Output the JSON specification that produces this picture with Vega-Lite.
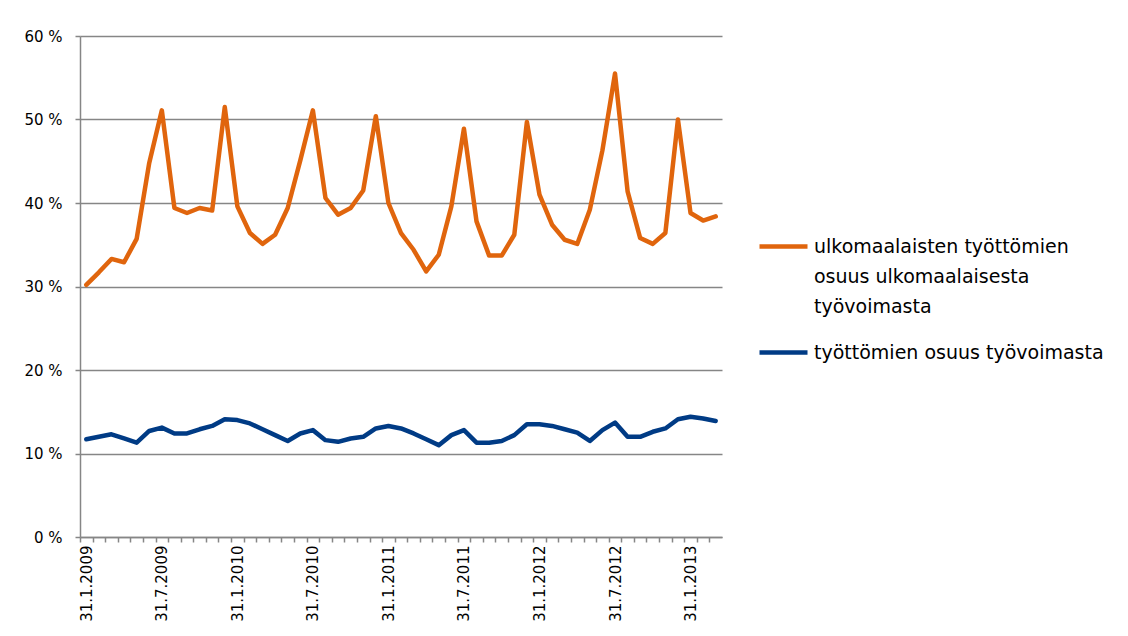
{
  "$schema": "https://vega.github.io/schema/vega-lite/v6.json",
  "width": 642,
  "height": 501,
  "autosize": {"type": "none"},
  "padding": {"left": 80, "top": 36, "right": 406, "bottom": 99},
  "background": "white",
  "data": {
    "values": [
      {"d": "31.1.2009", "a": 30.2, "b": 11.7},
      {"d": "28.2.2009", "a": 31.7, "b": 12.0},
      {"d": "31.3.2009", "a": 33.3, "b": 12.3},
      {"d": "30.4.2009", "a": 32.9, "b": 11.8},
      {"d": "31.5.2009", "a": 35.7, "b": 11.3},
      {"d": "30.6.2009", "a": 44.8, "b": 12.7},
      {"d": "31.7.2009", "a": 51.1, "b": 13.1},
      {"d": "31.8.2009", "a": 39.4, "b": 12.4},
      {"d": "30.9.2009", "a": 38.8, "b": 12.4},
      {"d": "31.10.2009", "a": 39.4, "b": 12.9},
      {"d": "30.11.2009", "a": 39.1, "b": 13.3},
      {"d": "31.12.2009", "a": 51.5, "b": 14.1},
      {"d": "31.1.2010", "a": 39.6, "b": 14.0},
      {"d": "28.2.2010", "a": 36.4, "b": 13.6},
      {"d": "31.3.2010", "a": 35.1, "b": 12.9},
      {"d": "30.4.2010", "a": 36.2, "b": 12.2},
      {"d": "31.5.2010", "a": 39.4, "b": 11.5},
      {"d": "30.6.2010", "a": 45.1, "b": 12.4},
      {"d": "31.7.2010", "a": 51.1, "b": 12.8},
      {"d": "31.8.2010", "a": 40.6, "b": 11.6},
      {"d": "30.9.2010", "a": 38.6, "b": 11.4},
      {"d": "31.10.2010", "a": 39.4, "b": 11.8},
      {"d": "30.11.2010", "a": 41.5, "b": 12.0},
      {"d": "31.12.2010", "a": 50.4, "b": 13.0},
      {"d": "31.1.2011", "a": 40.0, "b": 13.3},
      {"d": "28.2.2011", "a": 36.4, "b": 13.0},
      {"d": "31.3.2011", "a": 34.4, "b": 12.4},
      {"d": "30.4.2011", "a": 31.8, "b": 11.7},
      {"d": "31.5.2011", "a": 33.8, "b": 11.0},
      {"d": "30.6.2011", "a": 39.6, "b": 12.2},
      {"d": "31.7.2011", "a": 48.9, "b": 12.8},
      {"d": "31.8.2011", "a": 37.8, "b": 11.3},
      {"d": "30.9.2011", "a": 33.7, "b": 11.3},
      {"d": "31.10.2011", "a": 33.7, "b": 11.5},
      {"d": "30.11.2011", "a": 36.2, "b": 12.2},
      {"d": "31.12.2011", "a": 49.7, "b": 13.5},
      {"d": "31.1.2012", "a": 41.0, "b": 13.5},
      {"d": "29.2.2012", "a": 37.4, "b": 13.3},
      {"d": "31.3.2012", "a": 35.6, "b": 12.9},
      {"d": "30.4.2012", "a": 35.1, "b": 12.5},
      {"d": "31.5.2012", "a": 39.2, "b": 11.5},
      {"d": "30.6.2012", "a": 46.3, "b": 12.8},
      {"d": "31.7.2012", "a": 55.5, "b": 13.7},
      {"d": "31.8.2012", "a": 41.4, "b": 12.0},
      {"d": "30.9.2012", "a": 35.8, "b": 12.0},
      {"d": "31.10.2012", "a": 35.1, "b": 12.6},
      {"d": "30.11.2012", "a": 36.4, "b": 13.0},
      {"d": "31.12.2012", "a": 50.0, "b": 14.1},
      {"d": "31.1.2013", "a": 38.8, "b": 14.4},
      {"d": "28.2.2013", "a": 37.9, "b": 14.2},
      {"d": "31.3.2013", "a": 38.4, "b": 13.9}
    ]
  },
  "transform": [
    {"fold": ["a", "b"], "as": ["key", "value"]},
    {"lookup": "key", "from": {"data": {"values": [
      {"key": "a", "series": "ulkomaalaisten työttömien|osuus ulkomaalaisesta|työvoimasta"},
      {"key": "b", "series": "työttömien osuus työvoimasta"}
    ]}, "key": "key", "fields": ["series"]}}
  ],
  "mark": {"type": "line", "strokeWidth": 4.5, "strokeJoin": "round", "strokeCap": "round"},
  "encoding": {
    "x": {
      "field": "d",
      "type": "ordinal",
      "sort": null,
      "scale": {"type": "point", "padding": 0.5},
      "axis": {
        "title": null,
        "labelAngle": 270,
        "labelAlign": "right",
        "labelBaseline": "middle",
        "labelPadding": 3,
        "labelFont": "DejaVu Sans",
        "labelFontSize": 15,
        "labelColor": "black",
        "labelExpr": "indexof(datum.value, '31.1.') == 0 || indexof(datum.value, '31.7.') == 0 ? datum.value : ''",
        "labelOverlap": false,
        "tickOffset": -6.29,
        "labelOffset": 6.29,
        "tickSize": 5,
        "tickWidth": 1.5,
        "tickColor": "#868686",
        "domainColor": "#868686",
        "domainWidth": 1.5,
        "grid": false
      }
    },
    "y": {
      "field": "value",
      "type": "quantitative",
      "scale": {"domain": [0, 60], "nice": false},
      "axis": {
        "title": null,
        "values": [0, 10, 20, 30, 40, 50, 60],
        "labelExpr": "datum.value + ' %'",
        "labelFont": "DejaVu Sans",
        "labelFontSize": 15,
        "labelColor": "black",
        "labelPadding": 13,
        "tickSize": 5,
        "tickWidth": 1.5,
        "tickColor": "#868686",
        "domainColor": "#868686",
        "domainWidth": 1.5,
        "grid": true,
        "gridColor": "#868686",
        "gridWidth": 1.5
      }
    },
    "color": {
      "field": "series",
      "type": "nominal",
      "sort": null,
      "scale": {
        "domain": ["ulkomaalaisten työttömien|osuus ulkomaalaisesta|työvoimasta", "työttömien osuus työvoimasta"],
        "range": ["#E0650D", "#003B85"]
      },
      "legend": {
        "title": null,
        "orient": "none",
        "legendX": 677,
        "legendY": 184,
        "symbolType": "stroke",
        "symbolSize": 2304,
        "symbolStrokeWidth": 4.5,
        "labelExpr": "split(datum.label, '|')",
        "labelFont": "DejaVu Sans",
        "labelFontSize": 19,
        "labelColor": "black",
        "labelLimit": 400,
        "labelOffset": 4,
        "rowPadding": 9
      }
    }
  },
  "config": {
    "view": {"stroke": null},
    "style": {"guide-label": {"lineHeight": 30}}
  }
}
